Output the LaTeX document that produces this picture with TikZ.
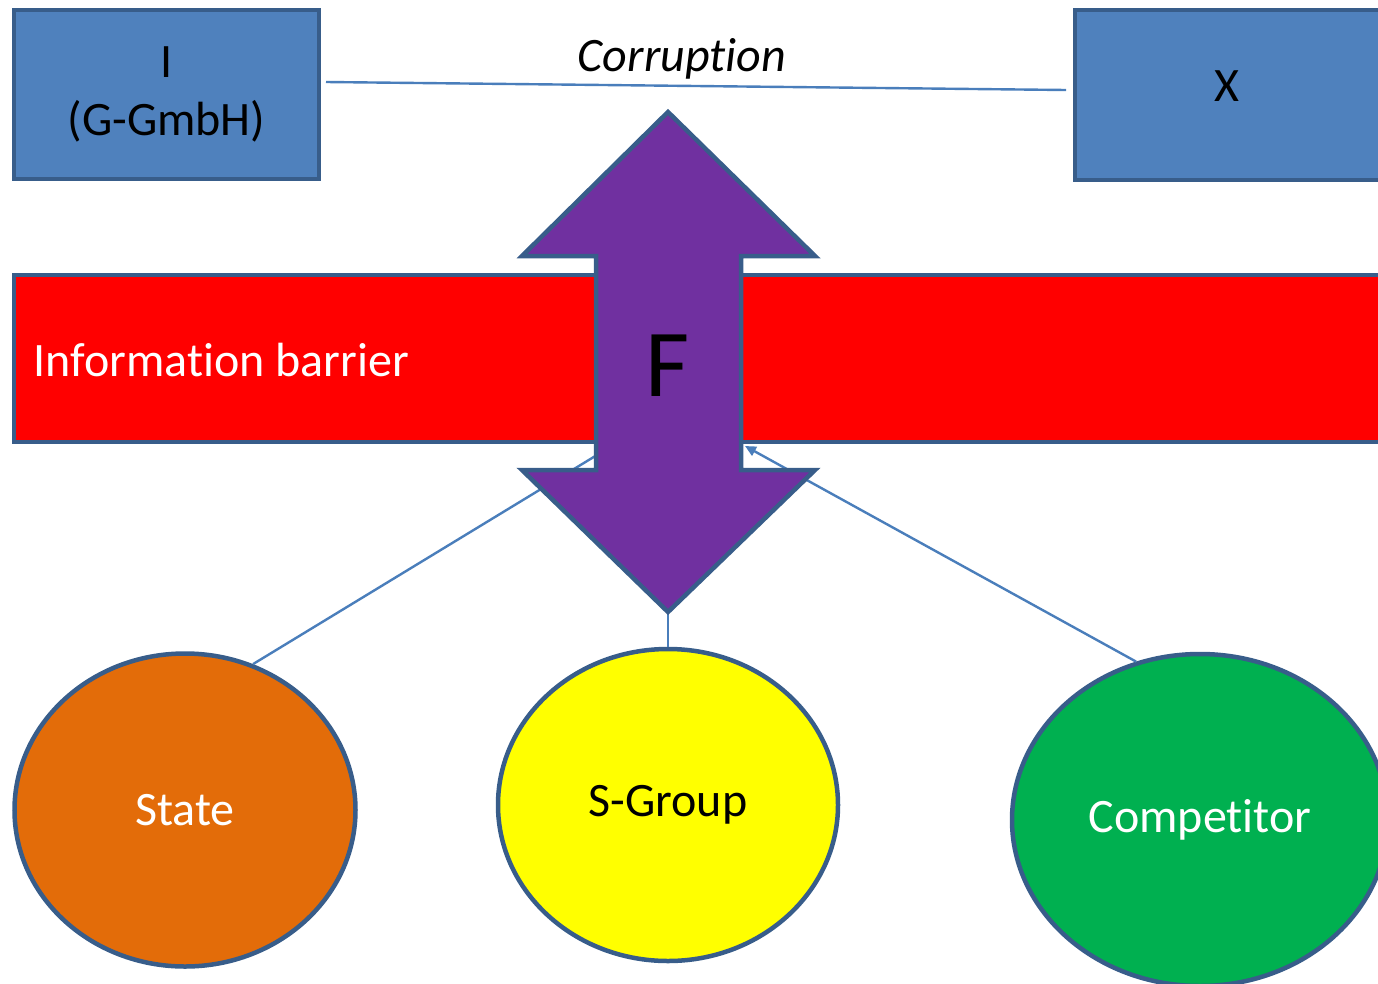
\documentclass[tikz,border=0pt]{standalone}
\usepackage{fontspec}
\setmainfont[Ligatures={NoCommon,NoContextual,NoRequired},Contextuals=NoAlternate]{Carlito}
\usetikzlibrary{arrows.meta,shapes.geometric}
\definecolor{boxblue}{HTML}{4F81BD}
\definecolor{edgeblue}{HTML}{385D8A}
\definecolor{lineblue}{HTML}{4A7EBB}
\definecolor{fpurple}{HTML}{7030A0}
\definecolor{sorange}{HTML}{E36C09}
\definecolor{cgreen}{HTML}{00B050}
\definecolor{syellow}{HTML}{FFFF00}
\definecolor{barred}{HTML}{FF0000}
\tikzset{
  bigfont/.style={font=\fontsize{48}{58}\selectfont},
  bluebox/.style={draw=edgeblue, line width=4.5pt, fill=boxblue, inner sep=0pt, align=center, bigfont},
  oval/.style={ellipse, draw=edgeblue, line width=4.5pt, inner sep=0pt, bigfont},
  conn/.style={draw=lineblue, line width=2.4pt},
}
\begin{document}
\begin{tikzpicture}[x=1pt,y=-1pt]
\useasboundingbox (0,0) rectangle (1378,983);
\clip (0,0) rectangle (1378,983);
% boxes
\node[bluebox, minimum width=305pt, minimum height=169pt] (I) at (166.5,94.5) {I\\(G-GmbH)};
\node[bluebox, minimum width=305pt, minimum height=170pt] (X) at (1227.5,95) {};
\node[bigfont] (Xl) at (1227,86) {X};
% corruption link
\coordinate (c1) at (326,82);
\coordinate (c2) at (1066,90);
\draw[conn] (c1) -- (c2);
\node[font=\fontsize{48}{58}\selectfont\itshape] (corr) at (682,59) {Corruption};
% information barrier
\node[draw=edgeblue, line width=4.5pt, fill=barred, minimum width=1400pt, minimum height=167pt, inner sep=0pt] (bar) at (714,358.5) {};
\node[anchor=west, text=white, bigfont] (barl) at (30,360) {Information barrier};
% ellipses
\node[oval, fill=sorange, text=white, minimum width=341pt, minimum height=313pt] (state) at (185,810) {State};
\node[oval, fill=syellow, text=black, minimum width=340pt, minimum height=312pt] (sgroup) at (668,805) {S-Group};
\node[oval, fill=cgreen, text=white, minimum width=376pt, minimum height=332pt] (comp) at (1200,820) {Competitor};
% connectors (behind the arrow)
\coordinate (fl) at (597,455);
\coordinate (fr) at (745,446);
\coordinate (fb) at (668,612);
\draw[conn] (state.65) -- (fl);
\draw[conn, -{Triangle[length=11pt,width=10pt]}] (comp.112) -- (fr);
\draw[conn] (sgroup.north) -- (fb);
% double arrow F
\filldraw[fill=fpurple, draw=edgeblue, line width=4.5pt, line join=miter]
  (668,112) -- (815,256) -- (741,256) -- (741,470) -- (815,470) -- (668,612)
  -- (522,470) -- (596,470) -- (596,256) -- (522,256) -- cycle;
\node[font=\fontsize{96}{110}\selectfont] (F) at (668,366) {F};
\end{tikzpicture}
\end{document}
